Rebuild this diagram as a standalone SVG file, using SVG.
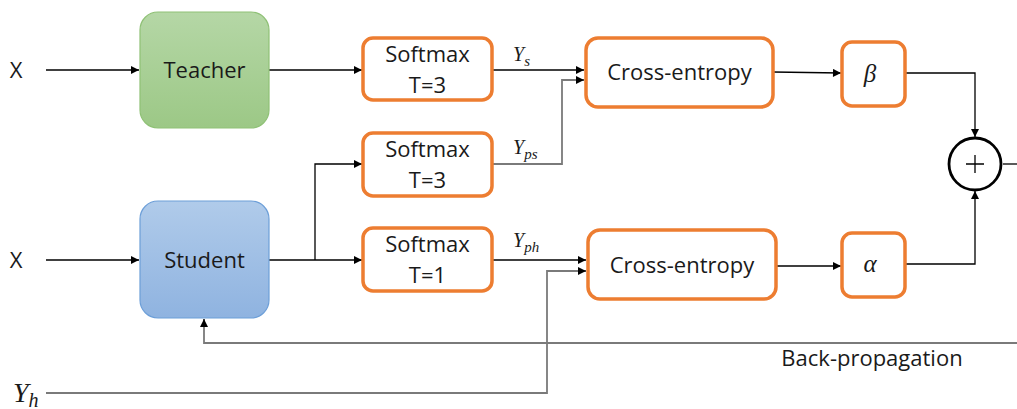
<svg xmlns="http://www.w3.org/2000/svg" width="1017" height="409" viewBox="0 0 1017 409">
<defs>
<linearGradient id="gGreen" x1="0" y1="0" x2="0" y2="1"><stop offset="0" stop-color="#b5d7a6"/><stop offset="1" stop-color="#9cc886"/></linearGradient>
<linearGradient id="gBlue" x1="0" y1="0" x2="0" y2="1"><stop offset="0" stop-color="#b0cbea"/><stop offset="1" stop-color="#8fb3e0"/></linearGradient>
<marker id="arr" viewBox="0 0 10 10" refX="10" refY="5" markerWidth="9" markerHeight="8" markerUnits="userSpaceOnUse" orient="auto"><path d="M0,0 L10,5 L0,10 z" fill="#000"/></marker>
<style>
.t{font-family:"Open Sans","Liberation Sans",sans-serif;font-size:22px;fill:#1a1a1a;text-anchor:middle}
.m{font-family:"Liberation Serif","DejaVu Serif",serif;font-style:italic;fill:#1a1a1a}
.ob{fill:#fff;stroke:#ed7d31;stroke-width:3.5}
.k{fill:none;stroke:#000;stroke-width:1.3}
.g{fill:none;stroke:#7a7a7a;stroke-width:1.8}
</style>
</defs>
<g id="connectors">
<line class="k" x1="46" y1="70" x2="139" y2="70" marker-end="url(#arr)"/>
<line class="k" x1="269" y1="70" x2="362" y2="70" marker-end="url(#arr)"/>
<line class="k" x1="492" y1="70" x2="584" y2="70" marker-end="url(#arr)"/>
<polyline class="g" points="492,164 562,164 562,80 576,80"/>
<line class="k" x1="576" y1="80" x2="584" y2="80" marker-end="url(#arr)"/>
<line class="k" x1="46" y1="260" x2="139" y2="260" marker-end="url(#arr)"/>
<line class="k" x1="269" y1="260" x2="362" y2="260" marker-end="url(#arr)"/>
<polyline class="k" points="315,260 315,164 362,164" marker-end="url(#arr)"/>
<line class="k" x1="492" y1="260" x2="586" y2="260" marker-end="url(#arr)"/>
<polyline class="g" points="46,393 547,393 547,271 578,271"/>
<line class="k" x1="578" y1="271" x2="586" y2="271" marker-end="url(#arr)"/>
<line class="k" x1="773" y1="72" x2="841" y2="73" marker-end="url(#arr)"/>
<line class="k" x1="777" y1="266" x2="841" y2="266" marker-end="url(#arr)"/>
<polyline class="k" points="905,73 975,73 975,137" marker-end="url(#arr)"/>
<polyline class="k" points="905,264 975,264 975,191" marker-end="url(#arr)"/>
<line class="k" x1="1003" y1="164" x2="1017" y2="164"/>
<polyline class="g" points="1017,343 204,343 204,326"/>
<line class="k" x1="204" y1="327" x2="204" y2="319" marker-end="url(#arr)"/>
</g>
<g id="labels">
<text class="t" x="16" y="78">X</text>
<text class="t" x="16" y="268">X</text>
<text class="m" x="13" y="402" font-size="28">Y<tspan font-size="20" dy="5">h</tspan></text>
<text class="m" x="513" y="61" font-size="20">Y<tspan font-size="15" dy="5">s</tspan></text>
<text class="m" x="513" y="154" font-size="20">Y<tspan font-size="15" dy="5">ps</tspan></text>
<text class="m" x="513" y="247" font-size="20">Y<tspan font-size="15" dy="5">ph</tspan></text>
<text class="t" x="872" y="366" font-size="22.5">Back-propagation</text>
</g>
<g id="teacher">
<rect x="140" y="12" width="129" height="116" rx="18" fill="url(#gGreen)" stroke="#8fc176" stroke-width="1.2"/>
<text class="t" x="204.5" y="78">Teacher</text>
</g>
<g id="student">
<rect x="140" y="201" width="129" height="117" rx="18" fill="url(#gBlue)" stroke="#6d9fd8" stroke-width="1.2"/>
<text class="t" x="204.5" y="268">Student</text>
</g>
<g id="softmax1">
<rect class="ob" x="363" y="38" width="129" height="62" rx="10"/>
<text class="t" x="427.5" y="62">Softmax</text>
<text class="t" x="427.5" y="93">T=3</text>
</g>
<g id="softmax2">
<rect class="ob" x="363" y="133" width="129" height="63" rx="10"/>
<text class="t" x="427.5" y="157">Softmax</text>
<text class="t" x="427.5" y="188">T=3</text>
</g>
<g id="softmax3">
<rect class="ob" x="363" y="228" width="129" height="63" rx="10"/>
<text class="t" x="427.5" y="252">Softmax</text>
<text class="t" x="427.5" y="283">T=1</text>
</g>
<g id="crossentropy1">
<rect class="ob" x="586" y="38" width="187" height="69" rx="12"/>
<text class="t" x="679.5" y="80">Cross-entropy</text>
</g>
<g id="crossentropy2">
<rect class="ob" x="588" y="230" width="188" height="69" rx="12"/>
<text class="t" x="682" y="273">Cross-entropy</text>
</g>
<g id="beta">
<rect class="ob" x="842" y="42" width="63" height="64" rx="10"/>
<text class="m" x="870" y="82" font-size="25" text-anchor="middle">β</text>
</g>
<g id="alpha">
<rect class="ob" x="842" y="233" width="63" height="64" rx="10"/>
<text class="m" x="870" y="272" font-size="25" text-anchor="middle">α</text>
</g>
<g id="sum">
<circle cx="975" cy="164" r="26" fill="#fff" stroke="#000" stroke-width="2.8"/>
<path d="M975,155 V173 M966,164 H984" stroke="#000" stroke-width="1.3" fill="none"/>
</g>
</svg>
